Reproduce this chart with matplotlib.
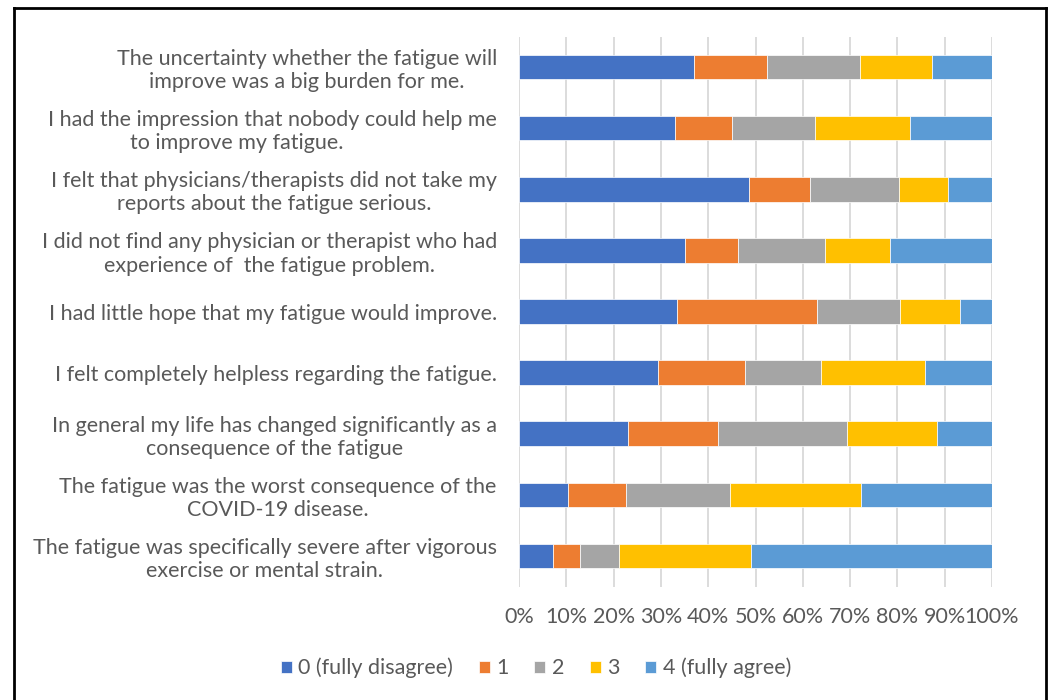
import matplotlib
matplotlib.use("Agg")
import matplotlib.pyplot as plt
from matplotlib.lines import Line2D
from matplotlib.ticker import PercentFormatter
import numpy as np

# statements, top to bottom as in the chart
statements = [
    "The uncertainty whether the fatigue will\nimprove was a big burden for me.",
    "I had the impression that nobody could help me\nto improve my fatigue.             ",
    "I felt that physicians/therapists did not take my\nreports about the fatigue serious.",
    "I did not find any physician or therapist who had\nexperience of  the fatigue problem.",
    "I had little hope that my fatigue would improve.",
    "I felt completely helpless regarding the fatigue.",
    "In general my life has changed significantly as a\nconsequence of the fatigue",
    "The fatigue was the worst consequence of the\nCOVID-19 disease.",
    "The fatigue was specifically severe after vigorous\nexercise or mental strain.",
]

# share of answers (%) per rating
r0 = [37.1, 32.9, 48.6, 35.2, 33.4, 29.3, 23.0, 10.4, 7.2]
r1 = [15.3, 12.1, 12.9, 11.2, 29.5, 18.5, 19.1, 12.2, 5.8]
r2 = [19.6, 17.6, 18.8, 18.2, 17.7, 16.0, 27.2, 22.0, 8.1]
r3 = [15.3, 20.0, 10.3, 13.8, 12.7, 22.0, 19.1, 27.8, 28.0]
r4 = [12.7, 17.4, 9.4, 21.6, 6.7, 14.2, 11.6, 27.6, 50.9]

rating_labels = ["0 (fully disagree)", "1", "2", "3", "4 (fully agree)"]
colors = ["#4472C4", "#ED7D31", "#A5A5A5", "#FFC000", "#5B9BD5"]
text_color = "#595959"
fs = 15.5

plt.rcParams["font.family"] = ["Lato", "DejaVu Sans"]

fig = plt.figure(figsize=(10.5, 7), dpi=100)
ax = fig.add_axes([519 / 1050, 1 - 586.5 / 700, 473 / 1050, 550 / 700])

y = np.arange(len(statements))
left = np.zeros(len(statements))
for vals, lbl, col in zip([r0, r1, r2, r3, r4], rating_labels, colors):
    vals = np.array(vals)
    ax.barh(y, vals, left=left, height=0.4, color=col, label=lbl,
            edgecolor="white", linewidth=0.5, zorder=3)
    left += vals

ax.set_xlim(0, 100)
ax.set_ylim(len(statements) - 0.5, -0.5)
ax.set_xticks(np.arange(0, 101, 10))
ax.xaxis.set_major_formatter(PercentFormatter(decimals=0))
ax.grid(axis="x", color="#D9D9D9", linewidth=1.3, zorder=0)
for s in ax.spines.values():
    s.set_visible(False)
ax.tick_params(axis="x", length=0, pad=15, labelsize=fs, labelcolor=text_color)
ax.tick_params(axis="y", length=0, pad=16)
ax.set_yticks(y)
ax.set_yticklabels(statements, fontsize=fs, color=text_color,
                   multialignment="center", linespacing=1.2)

ax.legend(loc="center", bbox_to_anchor=(536 / 1050, 1 - 668 / 700),
          bbox_transform=fig.transFigure, ncol=5, frameon=False,
          fontsize=fs, labelcolor=text_color, handlelength=0.5,
          handleheight=0.5, handletextpad=0.3, columnspacing=1.2)

# chart border (bottom edge is outside the picture)
lw = 2
fig.add_artist(Line2D([14 / 1050, 14 / 1050], [0, 1 - 7.5 / 700], color="black", lw=lw))
fig.add_artist(Line2D([14 / 1050, 1046 / 1050], [1 - 7.5 / 700, 1 - 7.5 / 700], color="black", lw=lw))
fig.add_artist(Line2D([1046 / 1050, 1046 / 1050], [0, 1 - 7.5 / 700], color="black", lw=lw))

fig.savefig("out.png", dpi=100)
plt.close(fig)
